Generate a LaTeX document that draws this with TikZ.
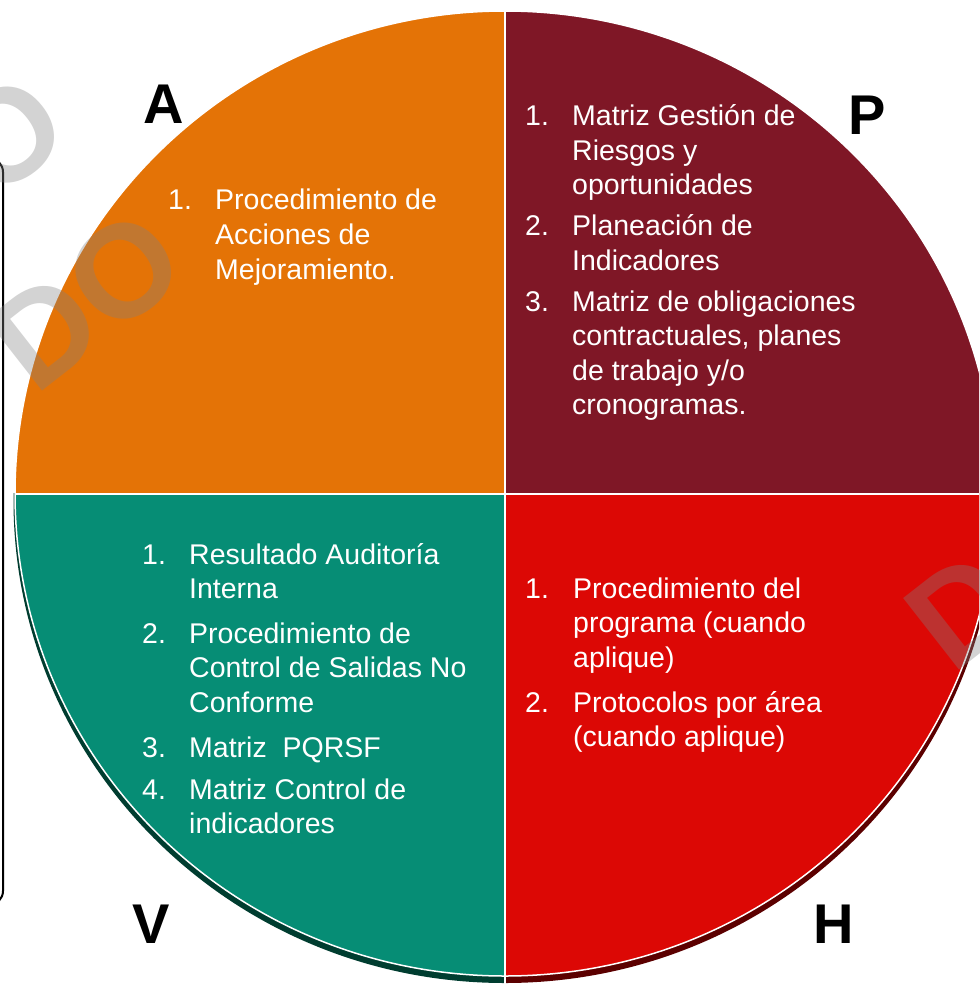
\documentclass[tikz,border=0pt]{standalone}
\usepackage{fontspec}
\setmainfont{Liberation Sans}
\definecolor{cA}{HTML}{E47306}
\definecolor{cP}{HTML}{7F1726}
\definecolor{cH}{HTML}{DC0805}
\definecolor{cV}{HTML}{068D75}
\definecolor{cVd}{HTML}{003D30}
\definecolor{cHd}{HTML}{5C0000}
\definecolor{wm}{HTML}{818181}
\begin{document}
\begin{tikzpicture}[x=1pt,y=-1pt,
  txt/.style={font=\fontsize{28.5}{34.5}\selectfont, text=white, anchor=base west, inner sep=0pt},
  letter/.style={font=\fontsize{56}{60}\selectfont\bfseries, text=black, anchor=base west, inner sep=0pt},
  wmark/.style={font=\fontsize{132}{132}\selectfont\bfseries, text=wm, text opacity=0.35, rotate=38, inner sep=0pt, anchor=center},
  divider/.style={white, line width=2pt}]
\useasboundingbox (0,0) rectangle (979,992);
\clip (0,0) rectangle (979,992);
\fill[white] (0,0) rectangle (979,992);
% left framed box (mostly off page)
\draw[line width=2pt, rounded corners=14pt] (-60,158) rectangle (3,905);
% extrusion (3D edge)
\begin{scope}
  \clip (0,493.5) rectangle (505,992);
  \fill[cVd] (505,500.5) ellipse [x radius=491.5pt, y radius=482.5pt];
\end{scope}
\begin{scope}
  \clip (505,493.5) rectangle (979,992);
  \fill[cHd] (505,500.5) ellipse [x radius=491.5pt, y radius=482.5pt];
\end{scope}
% top face
\begin{scope}
  \clip (505,493.5) ellipse [x radius=490pt, y radius=482.5pt];
  \fill[cA] (0,0) rectangle (505,493.5);
  \fill[cP] (505,0) rectangle (1000,493.5);
  \fill[cV] (0,493.5) rectangle (505,992);
  \fill[cH] (505,493.5) rectangle (1000,992);
\end{scope}
\draw[white, line width=1.5pt] (505,493.5) ellipse [x radius=490pt, y radius=482.5pt];
\draw[divider] (505,11) -- (505,984);
\draw[divider] (15,493.5) -- (995,493.5);
% letters
\node[letter] (lA) at (143,124) {A};
\node[letter] (lP) at (848,135) {P};
\node[letter] (lV) at (132,943) {V};
\node[letter] (lH) at (813,943) {H};
% A quadrant
\node[txt] (a1) at (168,210) {1.};
\foreach \y/\t [count=\i] in {210/{Procedimiento de}, 244.5/{Acciones de}, 279/{Mejoramiento.}}
  \node[txt] (at\i) at (215,\y) {\t};
% P quadrant
\node[txt] (p1) at (525,126) {1.};
\node[txt] (p2) at (525,236) {2.};
\node[txt] (p3) at (525,311) {3.};
\foreach \y/\t [count=\i] in {126/{Matriz Gestión de}, 160.5/{Riesgos y}, 195/{oportunidades},
    236/{Planeación de}, 270.5/{Indicadores},
    311/{Matriz de obligaciones}, 345.5/{contractuales, planes}, 380/{de trabajo y/o}, 414.5/{cronogramas.}}
  \node[txt] (pt\i) at (572,\y) {\t};
% V quadrant
\node[txt] (v1) at (142,564) {1.};
\node[txt] (v2) at (142,643) {2.};
\node[txt] (v3) at (142,757) {3.};
\node[txt] (v4) at (142,799) {4.};
\foreach \y/\t [count=\i] in {564/{Resultado Auditoría}, 598.5/{Interna},
    643/{Procedimiento de}, 677.5/{Control de Salidas No}, 712/{Conforme},
    757/{Matriz\ \ PQRSF},
    799/{Matriz Control de}, 833.5/{indicadores}}
  \node[txt] (vt\i) at (189,\y) {\t};
% H quadrant
\node[txt] (h1) at (525,598) {1.};
\node[txt] (h2) at (525,712) {2.};
\foreach \y/\t [count=\i] in {598/{Procedimiento del}, 632.5/{programa (cuando}, 667/{aplique)},
    712/{Protocolos por área}, 746.5/{(cuando aplique)}}
  \node[txt] (ht\i) at (573,\y) {\t};
% watermarks
\node[wmark] (w1) at (7,135) {O};
\node[wmark] (w2) at (86,300) {DO};
\node[wmark] (w3) at (962,610) {D};
\end{tikzpicture}
\end{document}
